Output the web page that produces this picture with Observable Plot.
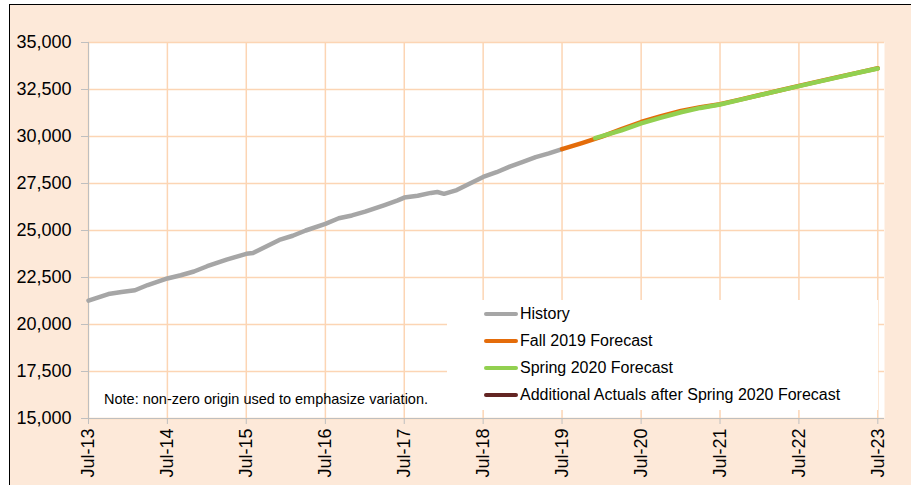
<!DOCTYPE html>
<html><head><meta charset="utf-8">
<script src="https://cdn.jsdelivr.net/npm/d3@7"></script>
<script src="https://cdn.jsdelivr.net/npm/@observablehq/plot@0.6"></script>
<style>
body{margin:0;background:#fff;font-family:"Liberation Sans",Arial,sans-serif;}
#wrap{position:relative;width:911px;height:485px;overflow:hidden;}
#bg{position:absolute;left:9px;top:4px;right:-5px;bottom:-5px;background:#FDE9D9;border-left:1.5px solid #000;border-top:1.5px solid #000;}
#chart{position:absolute;left:0;top:0;}
#legend{position:absolute;left:447px;top:300px;width:431px;height:110px;background:#fff;}
.row{position:absolute;left:37px;height:20px;display:flex;align-items:center;font-size:16px;color:#000;white-space:nowrap;}
.sw{width:34px;height:4.5px;border-radius:2px;margin-right:2px;}
#note{position:absolute;left:104px;top:391px;font-size:14.5px;color:#000;white-space:nowrap;}
</style></head>
<body>
<div id="wrap"><div id="bg"></div><div id="chart"></div><div id="legend"></div><div id="note">Note: non-zero origin used to emphasize variation.</div></div>
<script>
// History (actuals)
const histDates = ["2013-07","2013-10","2013-12","2014-02","2014-04","2014-07","2014-09","2014-11","2015-01","2015-04","2015-07","2015-08","2015-10","2015-12","2016-02","2016-04","2016-07","2016-09","2016-11","2017-01","2017-04","2017-06","2017-07","2017-09","2017-11","2017-12","2018-01","2018-03","2018-05","2018-07","2018-09","2018-11","2019-01","2019-03","2019-05","2019-07"];
const histValues = [21270,21620,21730,21820,22100,22450,22620,22820,23100,23450,23760,23800,24150,24500,24720,25000,25350,25650,25800,26000,26350,26600,26750,26850,27000,27050,26950,27150,27500,27850,28100,28400,28650,28900,29100,29330];
// Fall 2019 Forecast
const fallDates = ["2019-07","2019-10","2020-01","2020-04","2020-07","2020-10","2021-01","2021-04","2021-07","2021-10","2022-01","2022-04","2022-07","2022-10","2023-01","2023-04","2023-07"];
const fallValues = [29330,29650,29990,30390,30770,31080,31360,31560,31720,31960,32210,32450,32690,32930,33170,33400,33630];
// Spring 2020 Forecast
const springDates = ["2019-12","2020-04","2020-07","2020-10","2021-01","2021-04","2021-07","2021-10","2022-01","2022-04","2022-07","2022-10","2023-01","2023-04","2023-07"];
const springValues = [29910,30330,30700,31000,31290,31520,31700,31950,32200,32440,32680,32920,33160,33390,33620];
// Additional actuals after Spring 2020 forecast (none visible)
const addDates = [];
const addValues = [];

const seriesNames = ["History","Fall 2019 Forecast","Spring 2020 Forecast","Additional Actuals after Spring 2020 Forecast"];
const seriesColors = ["#A6A6A6","#E46C0A","#92D050","#632523"];
const yTicks = [15000,17500,20000,22500,25000,27500,30000,32500,35000];
const xTickYears = [2013,2014,2015,2016,2017,2018,2019,2020,2021,2022,2023];

const parse = d3.utcParse("%Y-%m");
const toRows = (ds, vs) => ds.map((d,i)=>({date:parse(d), value:vs[i]}));
const hist = toRows(histDates, histValues);
const fall = toRows(fallDates, fallValues);
const spring = toRows(springDates, springValues);
const add = toRows(addDates, addValues);
const julys = xTickYears.map(y=>new Date(Date.UTC(y,6,1)));
const x0 = new Date(Date.UTC(2013,6,1)), x1 = new Date(Date.UTC(2023,7,1));
const grid = "#FCD5B4", axisc = "#BFBFBF";

const chart = Plot.plot({
  width:911, height:485,
  marginLeft:88, marginRight:27, marginTop:42, marginBottom:67,
  style:{background:"transparent", fontFamily:"Liberation Sans, Arial, sans-serif", color:"#000", overflow:"visible"},
  x:{type:"utc", domain:[x0,x1], label:null},
  y:{domain:[15000,35000], label:null},
  marks:[
    Plot.frame({fill:"white", stroke:null}),
    Plot.gridX(julys,{stroke:grid, strokeOpacity:1, strokeWidth:1.5}),
    Plot.gridY(yTicks,{stroke:grid, strokeOpacity:1, strokeWidth:1.5}),
    Plot.ruleX([x0],{stroke:axisc}),
    Plot.ruleY([15000],{stroke:axisc}),
    Plot.axisY(yTicks,{tickFormat:d3.format(","), tickSize:7, tickPadding:10, stroke:axisc, fill:"#000", fontSize:18, label:null}),
    Plot.axisX(julys,{tickFormat:d3.utcFormat("%b-%y"), tickRotate:-90, tickSize:6, tickPadding:4, stroke:axisc, fill:"#000", fontSize:18, label:null}),
    Plot.line(hist,{x:"date", y:"value", stroke:seriesColors[0], strokeWidth:4.5, strokeLinecap:"round"}),
    Plot.line(fall,{x:"date", y:"value", stroke:seriesColors[1], strokeWidth:4.5, strokeLinecap:"round"}),
    Plot.line(spring,{x:"date", y:"value", stroke:seriesColors[2], strokeWidth:4.5, strokeLinecap:"round"}),
    Plot.line(add,{x:"date", y:"value", stroke:seriesColors[3], strokeWidth:4.5, strokeLinecap:"round"})
  ]
});
document.getElementById("chart").appendChild(chart);

const leg = document.getElementById("legend");
seriesNames.forEach((n,i)=>{
  const r = document.createElement("div");
  r.className = "row";
  r.style.top = (4 + i*27) + "px";
  r.innerHTML = `<span class="sw" style="background:${seriesColors[i]}"></span><span>${n}</span>`;
  leg.appendChild(r);
});
</script>
</body></html>
